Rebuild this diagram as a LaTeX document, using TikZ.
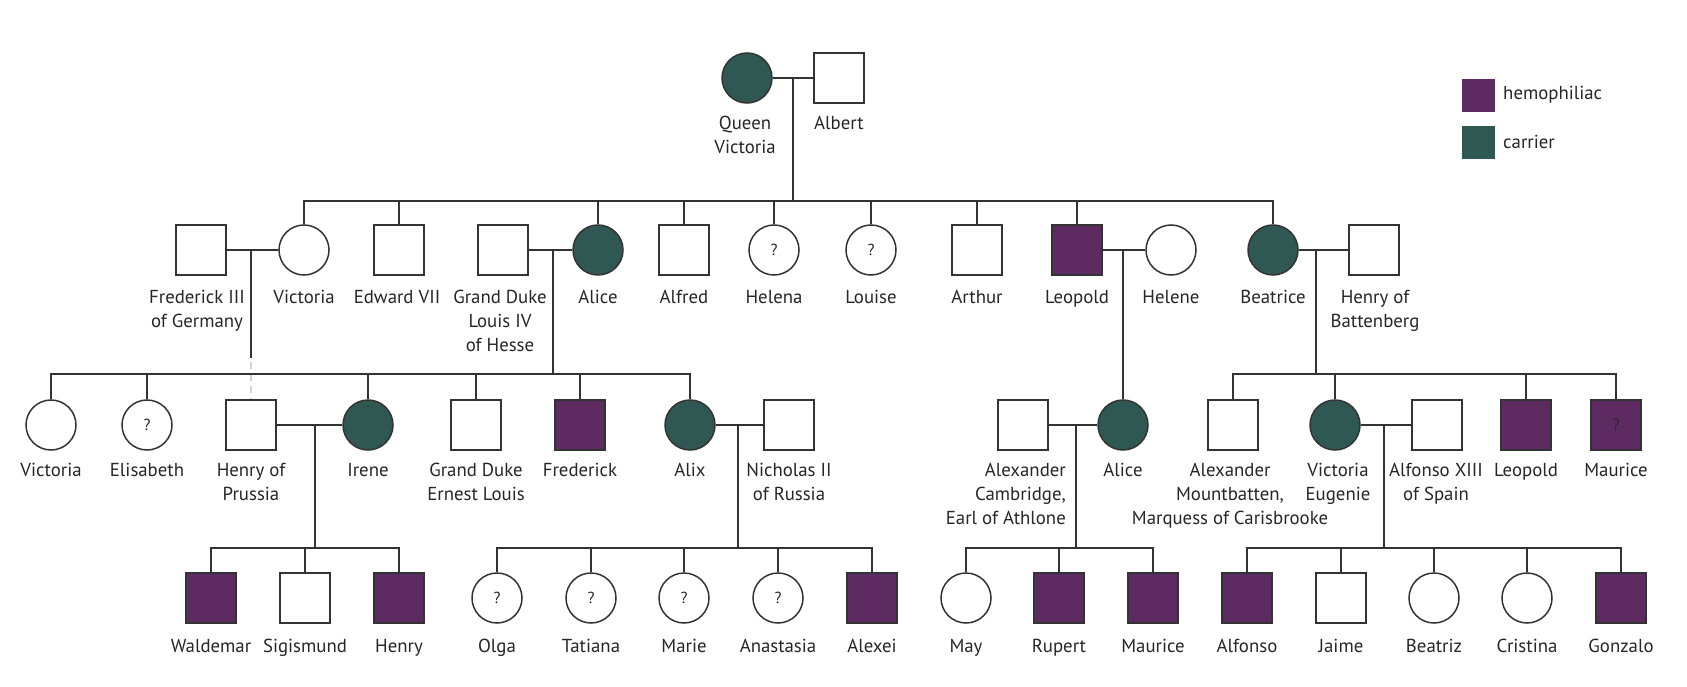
\documentclass[tikz,border=0pt]{standalone}
\usepackage{fontspec}
\setmainfont{PT Sans}
\definecolor{hemo}{RGB}{93,43,98}
\definecolor{carr}{RGB}{48,88,83}
\definecolor{linec}{RGB}{51,51,51}
\begin{document}
\begin{tikzpicture}[x=1pt,y=-1pt,
  pers/.style={draw=linec, line width=1.5pt, inner sep=0pt, minimum size=50pt, fill=white},
  male/.style={pers, rectangle},
  fem/.style={pers, circle},
  hem/.style={fill=hemo},
  car/.style={fill=carr},
  lab/.style={anchor=north, inner sep=0pt, align=center, font=\fontsize{18.8}{24}\selectfont, text=black!85},
  q/.style={font=\fontsize{16}{16}\selectfont, text=black!85},
  conn/.style={draw=linec, line width=1.5pt},
  faint/.style={draw=black!18, line width=1.5pt, dash pattern=on 7pt off 5pt},
  leg/.style={inner sep=0pt, minimum size=33pt},
  legt/.style={anchor=west, inner sep=0pt, font=\fontsize{18.8}{24}\selectfont, text=black!85}
  ]
\useasboundingbox (0,0) rectangle (1687,687);

% ---------- generation 0
\node[fem,car] (qv) at (747,78) {};
\node[male] (albert) at (839,78) {};
\node[lab] (qvl) at (745,116) {Queen\\Victoria};
\node[lab] (albertl) at (839,116) {Albert};
\coordinate (m0) at (793,78);
\coordinate (b0) at (793,201);

% ---------- generation 1
\node[male] (fred3) at (201,250) {};
\node[fem] (vic1) at (304,250) {};
\node[male] (edw) at (399,250) {};
\node[male] (louis) at (503,250) {};
\node[fem,car] (alice1) at (598,250) {};
\node[male] (alfred) at (684,250) {};
\node[fem,q] (helena) at (774,250) {?};
\node[fem,q] (louise) at (871,250) {?};
\node[male] (arthur) at (977,250) {};
\node[male,hem] (leo1) at (1077,250) {};
\node[fem] (helene) at (1171,250) {};
\node[fem,car] (beatrice) at (1273,250) {};
\node[male] (henryb) at (1374,250) {};

\node[lab] (fred3l) at (197,290) {Frederick III\\of Germany};
\node[lab] (vic1l) at (304,290) {Victoria};
\node[lab] (edwl) at (397,290) {Edward VII};
\node[lab] (louisl) at (500,290) {Grand Duke\\Louis IV\\of Hesse};
\node[lab] (alice1l) at (598,290) {Alice};
\node[lab] (alfredl) at (684,290) {Alfred};
\node[lab] (helenal) at (774,290) {Helena};
\node[lab] (louisel) at (871,290) {Louise};
\node[lab] (arthurl) at (977,290) {Arthur};
\node[lab] (leo1l) at (1077,290) {Leopold};
\node[lab] (helenel) at (1171,290) {Helene};
\node[lab] (beatricel) at (1273,290) {Beatrice};
\node[lab] (henrybl) at (1375,290) {Henry of\\Battenberg};

\coordinate (m1a) at (251,250);
\coordinate (m1b) at (553,250);
\coordinate (m1c) at (1123,250);
\coordinate (m1d) at (1316,250);
\coordinate (f1) at (251,358);
\coordinate (f2) at (251,362);
\coordinate (b1b) at (553,374);
\coordinate (b1d) at (1316,374);

% ---------- generation 2
\node[fem] (vic2) at (51,425) {};
\node[fem,q] (elis) at (147,425) {?};
\node[male] (henryp) at (251,425) {};
\node[fem,car] (irene) at (368,425) {};
\node[male] (ernest) at (476,425) {};
\node[male,hem] (fredk) at (580,425) {};
\node[fem,car] (alix) at (690,425) {};
\node[male] (nich) at (789,425) {};
\node[male] (alexc) at (1023,425) {};
\node[fem,car] (alice2) at (1123,425) {};
\node[male] (alexm) at (1233,425) {};
\node[fem,car] (vice) at (1335,425) {};
\node[male] (alf13) at (1437,425) {};
\node[male,hem] (leo2) at (1526,425) {};
\node[male,hem,q] (maur2) at (1616,425) {?};

\node[lab] (vic2l) at (51,463) {Victoria};
\node[lab] (elisl) at (147,463) {Elisabeth};
\node[lab] (henrypl) at (251,463) {Henry of\\Prussia};
\node[lab] (irenel) at (368,463) {Irene};
\node[lab] (ernestl) at (476,463) {Grand Duke\\Ernest Louis};
\node[lab] (fredkl) at (580,463) {Frederick};
\node[lab] (alixl) at (690,463) {Alix};
\node[lab] (nichl) at (789,463) {Nicholas II\\of Russia};
\node[lab, anchor=north east, align=right] (alexcl) at (1066,463) {Alexander\\Cambridge,\\Earl of Athlone};
\node[lab] (alice2l) at (1123,463) {Alice};
\node[lab] (alexml) at (1230,463) {Alexander\\Mountbatten,\\Marquess of Carisbrooke};
\node[lab] (vicel) at (1338,463) {Victoria\\Eugenie};
\node[lab] (alf13l) at (1436,463) {Alfonso XIII\\of Spain};
\node[lab] (leo2l) at (1526,463) {Leopold};
\node[lab] (maur2l) at (1616,463) {Maurice};

\coordinate (m2a) at (315,425);
\coordinate (m2b) at (738,425);
\coordinate (m2c) at (1076,425);
\coordinate (m2d) at (1384,425);
\coordinate (b2a) at (315,548);
\coordinate (b2b) at (738,548);
\coordinate (b2c) at (1076,548);
\coordinate (b2d) at (1384,548);

% ---------- generation 3
\node[male,hem] (wald) at (211,598) {};
\node[male] (sigis) at (305,598) {};
\node[male,hem] (henry3) at (399,598) {};
\node[fem,q] (olga) at (497,598) {?};
\node[fem,q] (tatiana) at (591,598) {?};
\node[fem,q] (marie) at (684,598) {?};
\node[fem,q] (anast) at (778,598) {?};
\node[male,hem] (alexei) at (872,598) {};
\node[fem] (may) at (966,598) {};
\node[male,hem] (rupert) at (1059,598) {};
\node[male,hem] (maur3) at (1153,598) {};
\node[male,hem] (alfonso) at (1247,598) {};
\node[male] (jaime) at (1341,598) {};
\node[fem] (beatriz) at (1434,598) {};
\node[fem] (cristina) at (1527,598) {};
\node[male,hem] (gonzalo) at (1621,598) {};

\node[lab] (waldl) at (211,639) {Waldemar};
\node[lab] (sigisl) at (305,639) {Sigismund};
\node[lab] (henry3l) at (399,639) {Henry};
\node[lab] (olgal) at (497,639) {Olga};
\node[lab] (tatianal) at (591,639) {Tatiana};
\node[lab] (mariel) at (684,639) {Marie};
\node[lab] (anastl) at (778,639) {Anastasia};
\node[lab] (alexeil) at (872,639) {Alexei};
\node[lab] (mayl) at (966,639) {May};
\node[lab] (rupertl) at (1059,639) {Rupert};
\node[lab] (maur3l) at (1153,639) {Maurice};
\node[lab] (alfonsol) at (1247,639) {Alfonso};
\node[lab] (jaimel) at (1341,639) {Jaime};
\node[lab] (beatrizl) at (1434,639) {Beatriz};
\node[lab] (cristinal) at (1527,639) {Cristina};
\node[lab] (gonzalol) at (1621,639) {Gonzalo};

% ---------- connectors
\draw[conn] (qv) -- (albert);
\draw[conn] (m0) -- (b0);
\foreach \c in {vic1,edw,alice1,alfred,helena,louise,arthur,leo1,beatrice}
  \draw[conn] (\c.north) |- (b0);

\draw[conn] (fred3) -- (vic1);
\draw[conn] (louis) -- (alice1);
\draw[conn] (leo1) -- (helene);
\draw[conn] (beatrice) -- (henryb);

\draw[conn] (m1a) -- (f1);
\draw[faint] (f2) -- (henryp.north);

\draw[conn] (m1b) -- (b1b);
\foreach \c in {vic2,elis,irene,ernest,fredk,alix}
  \draw[conn] (\c.north) |- (b1b);

\draw[conn] (m1c) -- (alice2.north);

\draw[conn] (m1d) -- (b1d);
\foreach \c in {alexm,vice,leo2,maur2}
  \draw[conn] (\c.north) |- (b1d);

\draw[conn] (henryp) -- (irene);
\draw[conn] (alix) -- (nich);
\draw[conn] (alexc) -- (alice2);
\draw[conn] (vice) -- (alf13);

\draw[conn] (m2a) -- (b2a);
\foreach \c in {wald,sigis,henry3}
  \draw[conn] (\c.north) |- (b2a);
\draw[conn] (m2b) -- (b2b);
\foreach \c in {olga,tatiana,marie,anast,alexei}
  \draw[conn] (\c.north) |- (b2b);
\draw[conn] (m2c) -- (b2c);
\foreach \c in {may,rupert,maur3}
  \draw[conn] (\c.north) |- (b2c);
\draw[conn] (m2d) -- (b2d);
\foreach \c in {alfonso,jaime,beatriz,cristina,gonzalo}
  \draw[conn] (\c.north) |- (b2d);

% ---------- legend
\node[leg, fill=hemo] (lh) at (1478,96) {};
\node[legt] (lht) at (1503,95) {hemophiliac};
\node[leg, fill=carr] (lc) at (1478,143) {};
\node[legt] (lct) at (1503,142) {carrier};
\end{tikzpicture}
\end{document}
